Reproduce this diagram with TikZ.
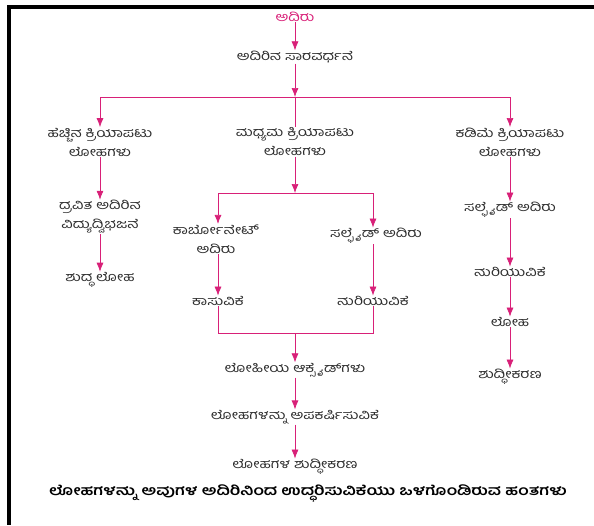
\documentclass[tikz,border=0pt]{standalone}
\usepackage{fontspec}
\newfontfamily\kn[Script=Kannada,FakeStretch=1.25]{Hind Mysuru}
\usetikzlibrary{arrows.meta}
\definecolor{mag}{RGB}{216,32,120}
\definecolor{txt}{RGB}{45,45,45}
\begin{document}
\begin{tikzpicture}[x=1pt,y=-1pt,
  lbl/.style={font=\kn\fontsize{12.6}{19}\selectfont, text=txt, align=center, inner sep=0.5pt},
  captxt/.style={font=\kn\bfseries\fontsize{13.7}{16}\selectfont, text=black, inner sep=1pt},
  arr/.style={draw=mag, line width=0.7pt, -{Latex[length=9pt,width=7pt]}},
  ln/.style={draw=mag, line width=0.7pt}]
\useasboundingbox (0,0) rectangle (594,525);
\fill[black] (7,5) rectangle (594,9);
\fill[black] (7,5) rectangle (11,525);

\node[lbl, text=mag] (ore) at (295,17) {ಅದಿರು};
\node[lbl] (conc) at (295,57) {ಅದಿರಿನ ಸಾರವರ್ಧನೆ};
\coordinate (b1) at (295,97);
\coordinate (b1l) at (100,97);
\coordinate (b1r) at (510,97);
\node[lbl] (high) at (100,142) {ಹೆಚ್ಚಿನ ಕ್ರಿಯಾಪಟು\\ಲೋಹಗಳು};
\node[lbl] (med) at (295,142) {ಮಧ್ಯಮ ಕ್ರಿಯಾಪಟು\\ಲೋಹಗಳು};
\node[lbl] (low) at (510,142) {ಕಡಿಮೆ ಕ್ರಿಯಾಪಟು\\ಲೋಹಗಳು};

\draw[arr] (ore) -- (conc);
\draw[arr] (conc) -- (b1);
\draw[ln] (b1l) -- (b1r);
\draw[ln] (b1) -- (med);
\draw[arr] (b1l) -- (high);
\draw[arr] (b1r) -- (low);

% high reactivity
\node[lbl] (elec) at (100,217) {ದ್ರವಿತ ಅದಿರಿನ\\ವಿದ್ಯುದ್ವಿಭಜನೆ};
\node[lbl] (pure) at (100,280) {ಶುದ್ಧ ಲೋಹ};
\draw[arr] (high) -- (elec);
\draw[arr] (elec) -- (pure);

% medium reactivity
\coordinate (b2) at (295,193);
\coordinate (b2l) at (218,193);
\coordinate (b2r) at (373,193);
\node[lbl] (carb) at (216,239) {ಕಾರ್ಬೋನೇಟ್\\ಅದಿರು};
\node[lbl] (sulf) at (376,236) {ಸಲ್ಫೈಡ್ ಅದಿರು};
\node[lbl] (calc) at (218,301) {ಕಾಸುವಿಕೆ};
\node[lbl] (roast) at (373,301) {ಹುರಿಯುವಿಕೆ};
\draw[arr] (med) -- (b2);
\draw[ln] (b2l) -- (b2r);
\draw[arr] (b2l) -- (b2l |- carb.north);
\draw[arr] (b2r) -- (b2r |- sulf.north);
\draw[arr] (calc |- carb.south) -- (calc);
\draw[arr] (roast |- sulf.south) -- (roast);
\coordinate (b3) at (295,333);
\coordinate (b3r) at (373,333);
\draw[ln] (calc) |- (b3r) -- (roast);
\node[lbl] (oxide) at (295,370) {ಲೋಹೀಯ ಆಕ್ಸೈಡ್‌ಗಳು};
\node[lbl] (red) at (295,417) {ಲೋಹಗಳನ್ನು ಅಪಕರ್ಷಿಸುವಿಕೆ};
\node[lbl] (pur) at (295,467) {ಲೋಹಗಳ ಶುದ್ಧೀಕರಣ};
\draw[arr] (b3) -- (oxide);
\draw[arr] (oxide) -- (red);
\draw[arr] (red) -- (pur);

% low reactivity
\node[lbl] (rs) at (510,210) {ಸಲ್ಫೈಡ್ ಅದಿರು};
\node[lbl] (rr) at (510,272) {ಹುರಿಯುವಿಕೆ};
\node[lbl] (rm) at (510,322) {ಲೋಹ};
\node[lbl] (rp) at (510,377) {ಶುದ್ಧೀಕರಣ};
\draw[arr] (low) -- (rs);
\draw[arr] (rs) -- (rr);
\draw[arr] (rr) -- (rm);
\draw[arr] (rm) -- (rp);

\node[captxt] (caption) at (308,493) {ಲೋಹಗಳನ್ನು ಅವುಗಳ ಅದಿರಿನಿಂದ ಉದ್ಧರಿಸುವಿಕೆಯು ಒಳಗೊಂಡಿರುವ ಹಂತಗಳು};
\end{tikzpicture}
\end{document}
